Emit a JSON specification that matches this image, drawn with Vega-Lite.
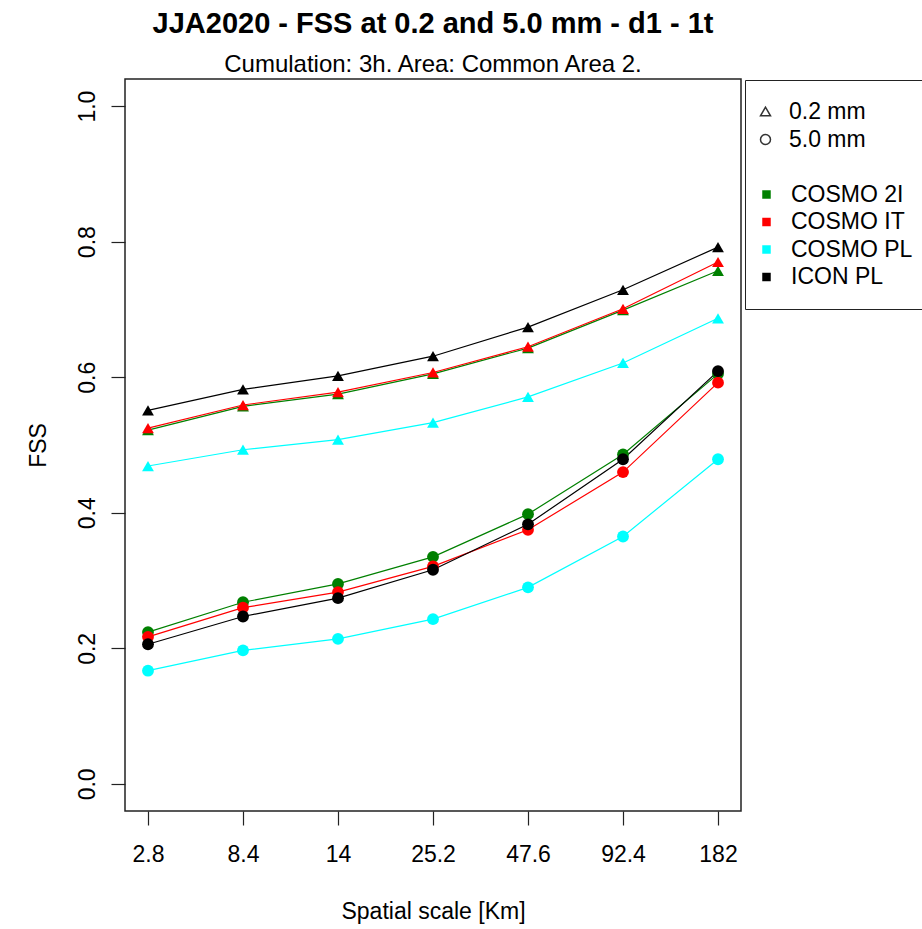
{
  "$schema": "https://vega.github.io/schema/vega-lite/v6.json",
  "autosize": "none",
  "width": 616,
  "height": 732,
  "padding": {"left": 125, "top": 79, "right": 181, "bottom": 118},
  "background": "white",
  "title": {
    "text": "JJA2020 - FSS at 0.2 and 5.0 mm - d1 - 1t",
    "subtitle": "Cumulation: 3h. Area: Common Area 2.",
    "anchor": "middle",
    "font": "Liberation Sans",
    "fontSize": 29,
    "fontWeight": "bold",
    "color": "black",
    "subtitleFont": "Liberation Sans",
    "subtitleFontSize": 24,
    "subtitleColor": "black",
    "subtitlePadding": 14,
    "offset": 2
  },
  "config": {
    "view": {"stroke": "#222", "strokeWidth": 1.5},
    "font": "Liberation Sans",
    "axis": {
      "domain": false,
      "grid": false,
      "tickColor": "#222",
      "tickWidth": 1.2,
      "tickSize": 14,
      "labelFont": "Liberation Sans",
      "titleFont": "Liberation Sans",
      "labelFontSize": 23,
      "titleFontSize": 23,
      "titleFontWeight": "normal",
      "labelColor": "black",
      "titleColor": "black"
    }
  },
  "data": {
    "values": [
      {"scale": "2.8", "model": "COSMO 2I", "thr": "0.2 mm", "fss": 0.522},
      {"scale": "8.4", "model": "COSMO 2I", "thr": "0.2 mm", "fss": 0.557},
      {"scale": "14", "model": "COSMO 2I", "thr": "0.2 mm", "fss": 0.575},
      {"scale": "25.2", "model": "COSMO 2I", "thr": "0.2 mm", "fss": 0.605},
      {"scale": "47.6", "model": "COSMO 2I", "thr": "0.2 mm", "fss": 0.643},
      {"scale": "92.4", "model": "COSMO 2I", "thr": "0.2 mm", "fss": 0.699},
      {"scale": "182", "model": "COSMO 2I", "thr": "0.2 mm", "fss": 0.757},
      {"scale": "2.8", "model": "COSMO 2I", "thr": "5.0 mm", "fss": 0.224},
      {"scale": "8.4", "model": "COSMO 2I", "thr": "5.0 mm", "fss": 0.268},
      {"scale": "14", "model": "COSMO 2I", "thr": "5.0 mm", "fss": 0.295},
      {"scale": "25.2", "model": "COSMO 2I", "thr": "5.0 mm", "fss": 0.335},
      {"scale": "47.6", "model": "COSMO 2I", "thr": "5.0 mm", "fss": 0.398},
      {"scale": "92.4", "model": "COSMO 2I", "thr": "5.0 mm", "fss": 0.486},
      {"scale": "182", "model": "COSMO 2I", "thr": "5.0 mm", "fss": 0.605},
      {"scale": "2.8", "model": "COSMO IT", "thr": "0.2 mm", "fss": 0.525},
      {"scale": "8.4", "model": "COSMO IT", "thr": "0.2 mm", "fss": 0.559},
      {"scale": "14", "model": "COSMO IT", "thr": "0.2 mm", "fss": 0.578},
      {"scale": "25.2", "model": "COSMO IT", "thr": "0.2 mm", "fss": 0.607},
      {"scale": "47.6", "model": "COSMO IT", "thr": "0.2 mm", "fss": 0.645},
      {"scale": "92.4", "model": "COSMO IT", "thr": "0.2 mm", "fss": 0.701},
      {"scale": "182", "model": "COSMO IT", "thr": "0.2 mm", "fss": 0.770},
      {"scale": "2.8", "model": "COSMO IT", "thr": "5.0 mm", "fss": 0.217},
      {"scale": "8.4", "model": "COSMO IT", "thr": "5.0 mm", "fss": 0.260},
      {"scale": "14", "model": "COSMO IT", "thr": "5.0 mm", "fss": 0.283},
      {"scale": "25.2", "model": "COSMO IT", "thr": "5.0 mm", "fss": 0.321},
      {"scale": "47.6", "model": "COSMO IT", "thr": "5.0 mm", "fss": 0.375},
      {"scale": "92.4", "model": "COSMO IT", "thr": "5.0 mm", "fss": 0.460},
      {"scale": "182", "model": "COSMO IT", "thr": "5.0 mm", "fss": 0.592},
      {"scale": "2.8", "model": "COSMO PL", "thr": "0.2 mm", "fss": 0.469},
      {"scale": "8.4", "model": "COSMO PL", "thr": "0.2 mm", "fss": 0.493},
      {"scale": "14", "model": "COSMO PL", "thr": "0.2 mm", "fss": 0.508},
      {"scale": "25.2", "model": "COSMO PL", "thr": "0.2 mm", "fss": 0.533},
      {"scale": "47.6", "model": "COSMO PL", "thr": "0.2 mm", "fss": 0.571},
      {"scale": "92.4", "model": "COSMO PL", "thr": "0.2 mm", "fss": 0.621},
      {"scale": "182", "model": "COSMO PL", "thr": "0.2 mm", "fss": 0.687},
      {"scale": "2.8", "model": "COSMO PL", "thr": "5.0 mm", "fss": 0.167},
      {"scale": "8.4", "model": "COSMO PL", "thr": "5.0 mm", "fss": 0.197},
      {"scale": "14", "model": "COSMO PL", "thr": "5.0 mm", "fss": 0.214},
      {"scale": "25.2", "model": "COSMO PL", "thr": "5.0 mm", "fss": 0.243},
      {"scale": "47.6", "model": "COSMO PL", "thr": "5.0 mm", "fss": 0.290},
      {"scale": "92.4", "model": "COSMO PL", "thr": "5.0 mm", "fss": 0.365},
      {"scale": "182", "model": "COSMO PL", "thr": "5.0 mm", "fss": 0.479},
      {"scale": "2.8", "model": "ICON PL", "thr": "0.2 mm", "fss": 0.551},
      {"scale": "8.4", "model": "ICON PL", "thr": "0.2 mm", "fss": 0.582},
      {"scale": "14", "model": "ICON PL", "thr": "0.2 mm", "fss": 0.602},
      {"scale": "25.2", "model": "ICON PL", "thr": "0.2 mm", "fss": 0.631},
      {"scale": "47.6", "model": "ICON PL", "thr": "0.2 mm", "fss": 0.674},
      {"scale": "92.4", "model": "ICON PL", "thr": "0.2 mm", "fss": 0.729},
      {"scale": "182", "model": "ICON PL", "thr": "0.2 mm", "fss": 0.792},
      {"scale": "2.8", "model": "ICON PL", "thr": "5.0 mm", "fss": 0.206},
      {"scale": "8.4", "model": "ICON PL", "thr": "5.0 mm", "fss": 0.247},
      {"scale": "14", "model": "ICON PL", "thr": "5.0 mm", "fss": 0.274},
      {"scale": "25.2", "model": "ICON PL", "thr": "5.0 mm", "fss": 0.316},
      {"scale": "47.6", "model": "ICON PL", "thr": "5.0 mm", "fss": 0.383},
      {"scale": "92.4", "model": "ICON PL", "thr": "5.0 mm", "fss": 0.479},
      {"scale": "182", "model": "ICON PL", "thr": "5.0 mm", "fss": 0.609}
    ]
  },
  "encoding": {
    "x": {
      "field": "scale",
      "type": "ordinal",
      "sort": ["2.8", "8.4", "14", "25.2", "47.6", "92.4", "182"],
      "scale": {"type": "point", "padding": 0.242},
      "axis": {"title": "Spatial scale [Km]", "labelAngle": 0, "labelPadding": 18, "titlePadding": 34}
    },
    "y": {
      "field": "fss",
      "type": "quantitative",
      "scale": {"domain": [-0.04, 1.04], "nice": false, "zero": false},
      "axis": {"title": "FSS", "values": [0, 0.2, 0.4, 0.6, 0.8, 1.0], "format": ".1f", "labelAngle": 270, "labelPadding": 12, "titlePadding": 26}
    },
    "color": {
      "field": "model",
      "type": "nominal",
      "scale": {"domain": ["COSMO 2I", "COSMO IT", "COSMO PL", "ICON PL"], "range": ["#008000", "#ff0000", "#00ffff", "#000000"]},
      "legend": {
        "orient": "none",
        "legendX": 620,
        "legendY": 1,
        "title": [" ", " ", " "],
        "titleFontSize": 23,
        "titleLineHeight": 30,
        "titlePadding": 0,
        "symbolType": "square",
        "symbolSize": 72,
        "symbolStrokeWidth": 0,
        "symbolOffset": -10,
        "labelFont": "Liberation Sans",
        "labelFontSize": 23,
        "labelColor": "black",
        "labelOffset": 13,
        "labelLimit": 300,
        "rowPadding": 3.5,
        "padding": 20,
        "strokeColor": "#222",
        "fillColor": "white",
        "encode": {"symbols": {"update": {"fill": {"scale": "color", "field": "value"}, "stroke": {"value": "transparent"}, "opacity": {"value": 1}}}}
      }
    }
  },
  "layer": [
    {
      "mark": {"type": "line", "strokeWidth": 1.2},
      "encoding": {"detail": {"field": "thr"}}
    },
    {
      "mark": {"type": "point", "filled": true, "opacity": 1, "size": 140},
      "encoding": {
        "shape": {
          "field": "thr",
          "type": "nominal",
          "scale": {"domain": ["0.2 mm", "5.0 mm"], "range": ["triangle-up", "circle"]},
          "legend": {
            "orient": "none",
            "legendX": 629,
            "legendY": 21,
            "title": null,
            "symbolSize": 100,
            "symbolFillColor": "white",
            "symbolStrokeColor": "#333",
            "symbolStrokeWidth": 1.5,
            "labelFont": "Liberation Sans",
            "labelFontSize": 23,
            "labelColor": "black",
            "labelOffset": 12,
            "rowPadding": 4,
            "padding": 0,
            "encode": {"symbols": {"update": {"fill": {"value": "white"}, "stroke": {"value": "#333"}, "strokeWidth": {"value": 1.5}, "size": {"signal": "datum.value === '0.2 mm' ? 150 : 55"}}}}
          }
        }
      }
    }
  ]
}
